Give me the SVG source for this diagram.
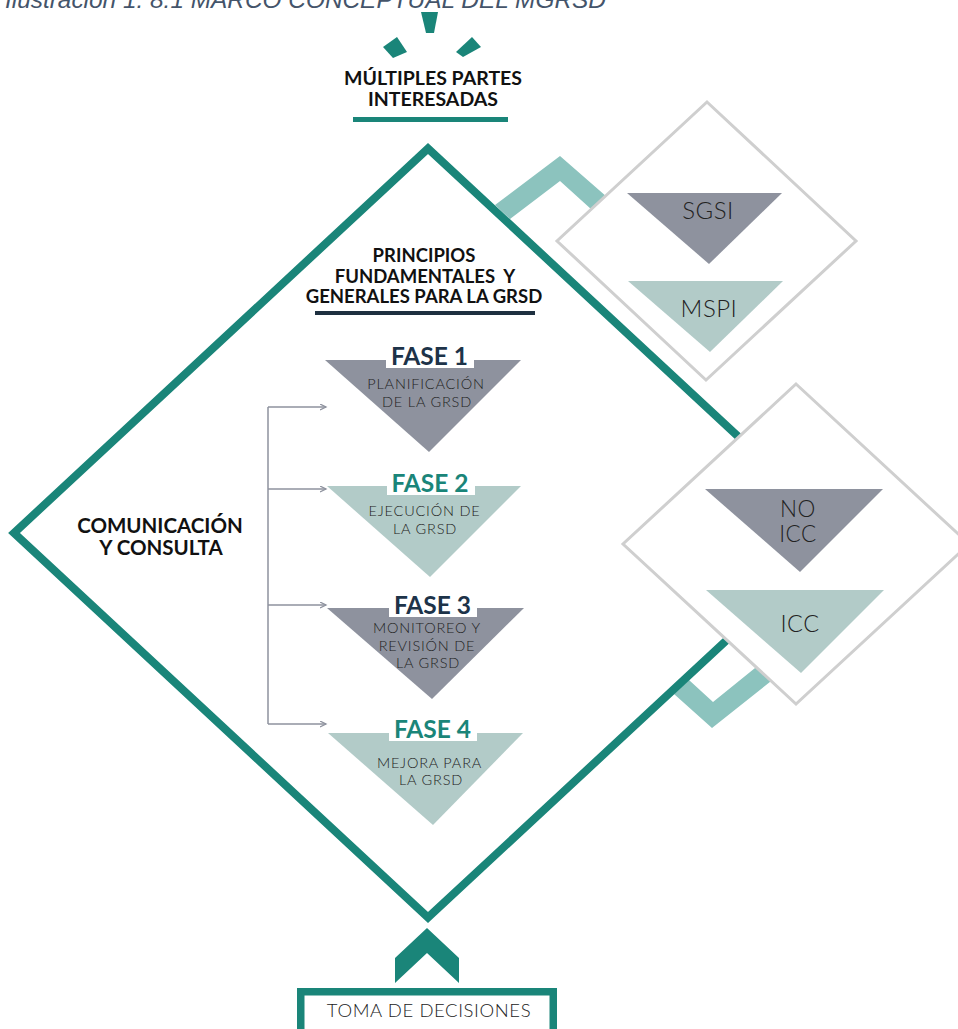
<svg xmlns="http://www.w3.org/2000/svg" width="958" height="1029" viewBox="0 0 958 1029">
<defs>
<style>
.teal{fill:#1a8579}
.lt{fill:#8cc3be}
.gray{fill:#8e929e}
.pale{fill:#b2cbc8}
.bold{font-family:Lato,"Liberation Sans",sans-serif;font-weight:700;text-anchor:middle}
.light{font-family:Lato,"Liberation Sans",sans-serif;font-weight:300;fill:#222;text-anchor:middle}
.sub{font-size:14.5px;letter-spacing:0.8px}
.fase{font-size:24.5px}
.box{fill:#fff;stroke:#cfcfcf;stroke-width:3}
.conn{fill:none;stroke:#8e929e;stroke-width:1.5}
</style>
<marker id="arr" markerWidth="8" markerHeight="8" refX="6" refY="3" orient="auto" markerUnits="userSpaceOnUse">
<path d="M0,0 L6,3 L0,6" fill="none" stroke="#8e929e" stroke-width="1.3"/>
</marker>
</defs>
<rect width="958" height="1029" fill="#fff"/>

<text x="5" y="8" font-family="'Liberation Sans',Arial,sans-serif" font-style="italic" font-size="24.4" fill="#44546a">Ilustración 1: 8.1 MARCO CONCEPTUAL DEL MGRSD</text>

<g id="partes">
<polygon class="teal" points="421,12 438,12 434,33 426,33"/>
<polygon class="teal" points="383,47 397,37 407,52 393,58"/>
<polygon class="teal" points="456,52 472,37 481,47 463,57"/>
<text class="bold" x="433" y="85" font-size="19.5" fill="#111">MÚLTIPLES PARTES</text>
<text class="bold" x="433" y="106" font-size="19.5" fill="#111">INTERESADAS</text>
<rect class="teal" x="353" y="117" width="155" height="5"/>
</g>

<g id="connectors">
<polygon class="lt" points="495,205 560,156 615,204 602,219 560,181 510,219"/>
<polygon class="lt" points="674,694 712,728 780,674 770,656 713,702 689,680"/>
<line class="conn" x1="268" y1="407" x2="268" y2="724"/>
<line class="conn" x1="268" y1="407" x2="326" y2="407" marker-end="url(#arr)"/>
<line class="conn" x1="268" y1="489" x2="326" y2="489" marker-end="url(#arr)"/>
<line class="conn" x1="268" y1="605" x2="326" y2="605" marker-end="url(#arr)"/>
<line class="conn" x1="268" y1="724" x2="326" y2="724" marker-end="url(#arr)"/>
<polygon class="teal" points="427,928 459,958 459,983 427,953 395,983 395,958"/>
</g>

<g id="marco">
<polygon points="428,148.5 842,533 428,917.5 14,533" fill="none" stroke="#1a8579" stroke-width="8" stroke-linejoin="miter"/>
</g>

<g id="sgsi-mspi">
<polygon class="box" points="707,102 856,241 706,380 557,241"/>
<polygon class="gray" points="627,193 782,193 709,264"/>
<text class="light" x="708" y="219" font-size="24" letter-spacing="0.5">SGSI</text>
<polygon class="pale" points="628,281 783,281 710,352"/>
<text class="light" x="709" y="317" font-size="24" letter-spacing="0.5">MSPI</text>
</g>

<g id="icc">
<polygon class="box" points="796,384 969,544 796,704 623,544"/>
<polygon class="gray" points="705,489 883,489 800,572"/>
<text class="light" x="798" y="517" font-size="22.5" letter-spacing="0.5">NO</text>
<text class="light" x="798" y="542" font-size="22.5" letter-spacing="0.5">ICC</text>
<polygon class="pale" points="706,590 884,590 801,673"/>
<text class="light" x="800" y="632" font-size="23.5" letter-spacing="0.5">ICC</text>
</g>

<g id="principios">
<text class="bold" x="424" y="262" font-size="18.5" fill="#111">PRINCIPIOS</text>
<text class="bold" x="425" y="283" font-size="18.5" fill="#111" xml:space="preserve">FUNDAMENTALES  Y</text>
<text class="bold" x="424" y="303" font-size="18.5" fill="#111">GENERALES PARA LA GRSD</text>
<rect x="315" y="311" width="220" height="4" fill="#1e3040"/>
</g>

<g id="fase1">
<polygon class="gray" points="325,360 521,360 429,452"/>
<rect x="386" y="343" width="88" height="25" fill="#fff"/>
<text class="bold fase" x="429.5" y="365" fill="#1d3349">FASE 1</text>
<text class="light sub" x="426" y="389">PLANIFICACIÓN</text>
<text class="light sub" x="427" y="407">DE LA GRSD</text>
</g>

<g id="fase2">
<polygon class="pale" points="327,486 521,486 430,577"/>
<rect x="387" y="470" width="88" height="25" fill="#fff"/>
<text class="bold fase" x="430" y="492" fill="#1a8579">FASE 2</text>
<text class="light sub" x="424.5" y="516">EJECUCIÓN DE</text>
<text class="light sub" x="425" y="534">LA GRSD</text>
</g>

<g id="fase3">
<polygon class="gray" points="327,608 524,608 432,699"/>
<rect x="389" y="592" width="88" height="25" fill="#fff"/>
<text class="bold fase" x="432.5" y="614" fill="#1d3349">FASE 3</text>
<text class="light sub" x="427" y="633">MONITOREO Y</text>
<text class="light sub" x="427" y="651">REVISIÓN DE</text>
<text class="light sub" x="428" y="668">LA GRSD</text>
</g>

<g id="fase4">
<polygon class="pale" points="328,733 523,733 433,825"/>
<rect x="389" y="716" width="88" height="25" fill="#fff"/>
<text class="bold fase" x="432.5" y="738" fill="#1a8579">FASE 4</text>
<text class="light sub" x="429.5" y="768">MEJORA PARA</text>
<text class="light sub" x="431" y="785">LA GRSD</text>
</g>

<g id="comunicacion">
<text class="bold" x="160" y="533" font-size="20.5" fill="#111">COMUNICACIÓN</text>
<text class="bold" x="161" y="555" font-size="20.5" fill="#111">Y CONSULTA</text>
</g>

<g id="decisiones">
<rect x="300.75" y="991.75" width="252.5" height="60" fill="#fff" stroke="#1a8579" stroke-width="7.5"/>
<text class="light" x="429" y="1017" font-size="18.5" letter-spacing="0.6">TOMA DE DECISIONES</text>
</g>
</svg>
